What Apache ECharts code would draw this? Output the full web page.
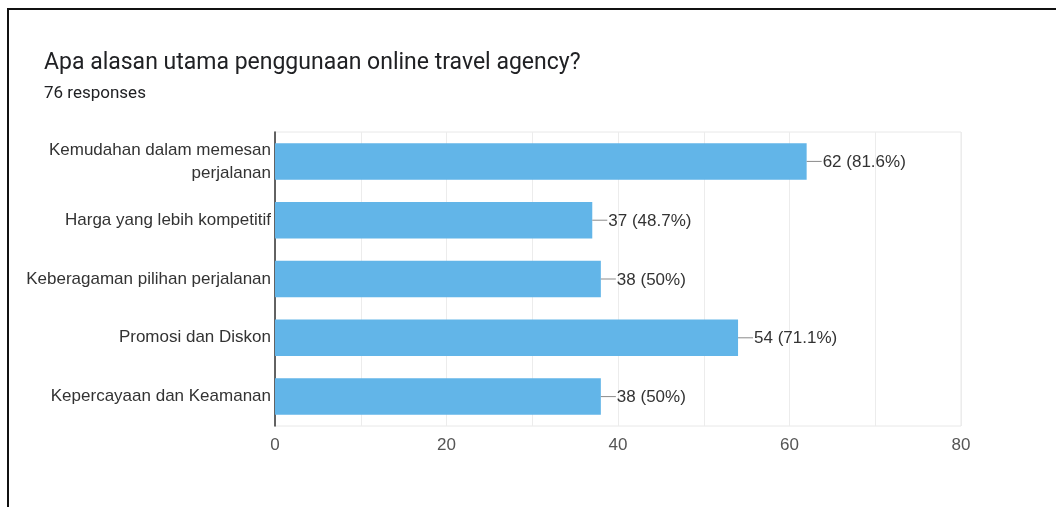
<!DOCTYPE html>
<html>
<head>
<meta charset="utf-8">
<title>Apa alasan utama penggunaan online travel agency?</title>
<script src="https://cdn.jsdelivr.net/npm/echarts@6/dist/echarts.min.js"></script>
<style>
  html, body { margin: 0; padding: 0; background: #ffffff; }
  #chart { width: 1056px; height: 507px; }
</style>
</head>
<body>
<div id="chart"></div>
<script>
// Survey answers (multiple choice, 76 respondents)
const totalResponses = 76;
const categories = [
  'Kemudahan dalam memesan\nperjalanan',
  'Harga yang lebih kompetitif',
  'Keberagaman pilihan perjalanan',
  'Promosi dan Diskon',
  'Kepercayaan dan Keamanan'
];
const counts = [62, 37, 38, 54, 38];
const xTicks = [0, 20, 40, 60, 80];

function pct(v) {
  const p = (v / totalResponses * 100).toFixed(1);
  return p.endsWith('.0') ? p.slice(0, -2) : p;
}

const chart = echarts.init(document.getElementById('chart'), null, { renderer: 'canvas' });

chart.setOption({
  backgroundColor: '#ffffff',
  animation: false,
  title: [
    {
      text: 'Apa alasan utama penggunaan online travel agency?',
      left: 44, top: 52, padding: 0,
      textStyle: { fontFamily: 'Roboto', fontSize: 23, fontWeight: 'normal', color: '#202124' }
    },
    {
      text: totalResponses + ' responses',
      left: 44, top: 85, padding: 0,
      textStyle: { fontFamily: 'Roboto', fontSize: 17, fontWeight: 'normal', color: '#202124' }
    }
  ],
  graphic: [
    { type: 'line', shape: { x1: 8, y1: 9, x2: 1056, y2: 9 }, style: { stroke: '#111', lineWidth: 2 } },
    { type: 'line', shape: { x1: 8, y1: 8, x2: 8, y2: 507 }, style: { stroke: '#111', lineWidth: 2 } }
  ],
  grid: {
    left: 275, right: 95, top: 132, bottom: 81,
    show: true, borderColor: '#e8e8e8', borderWidth: 1
  },
  xAxis: {
    type: 'value',
    min: 0, max: 80, interval: 10,
    axisLine: { show: false },
    axisTick: { show: false },
    splitLine: { lineStyle: { color: '#ececec', width: 1 } },
    axisLabel: {
      margin: 11,
      fontFamily: 'Liberation Sans', fontSize: 17, color: '#555',
      formatter: v => (xTicks.indexOf(v) >= 0 ? String(v) : '')
    }
  },
  yAxis: {
    type: 'category',
    inverse: true,
    data: categories,
    axisLine: { show: true, lineStyle: { color: '#333', width: 1.5 } },
    axisTick: { show: false },
    axisLabel: {
      margin: 4,
      fontFamily: 'Liberation Sans', fontSize: 17, color: '#333',
      lineHeight: 23, align: 'right'
    }
  },
  series: [{
    type: 'bar',
    data: counts,
    barCategoryGap: '38%',
    itemStyle: { color: '#62b5e8' },
    label: {
      show: true,
      position: 'right',
      distance: 0,
      formatter: p => '{l|}{t|' + p.value + ' (' + pct(p.value) + '%)}',
      rich: {
        l: { width: 15, height: 1, lineHeight: 1, backgroundColor: '#8a8a8a' },
        t: { fontFamily: 'Liberation Sans', fontSize: 17, color: '#333', padding: [2, 0, 0, 1] }
      }
    }
  }]
});
</script>
</body>
</html>
